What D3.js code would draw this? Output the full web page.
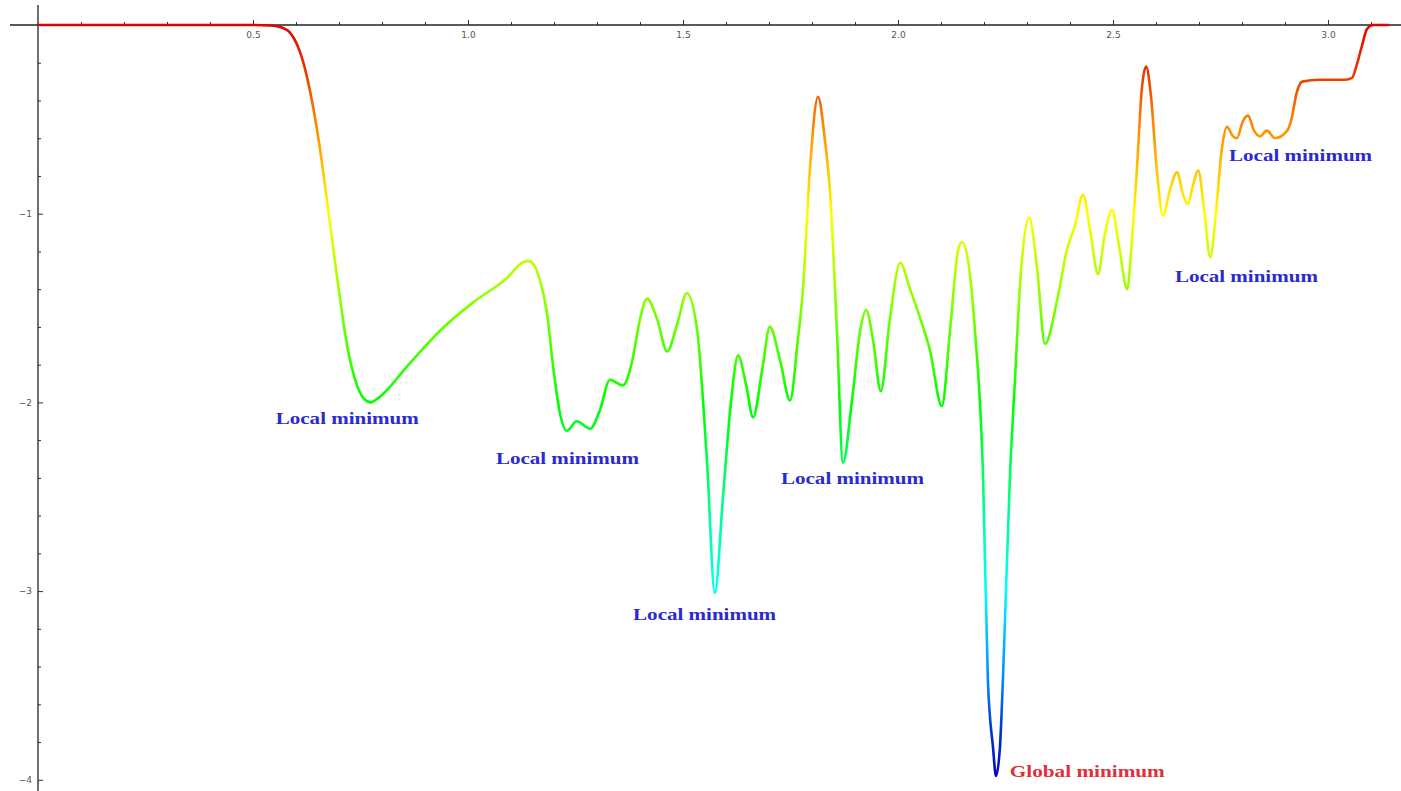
<!DOCTYPE html>
<html>
<head>
<meta charset="utf-8">
<script src="https://cdn.jsdelivr.net/npm/d3@7"></script>
<style>
  body { margin: 0; background: #fff; }
  svg { display: block; }
</style>
</head>
<body>
<div id="chart-area"></div>
<script>
// values
var xs = [0, 0.26, 0.493, 0.54, 0.563, 0.586, 0.616, 0.637, 0.656, 0.676, 0.697, 0.719, 0.742, 0.758, 0.774,
  0.795, 0.858, 0.935, 1.012, 1.091, 1.126, 1.14, 1.153, 1.167, 1.184, 1.198, 1.214, 1.23, 1.253, 1.284,
  1.307, 1.33, 1.36, 1.381, 1.4, 1.416, 1.44, 1.463, 1.486, 1.509, 1.533, 1.556, 1.574, 1.593, 1.612,
  1.628, 1.647, 1.663, 1.684, 1.702, 1.726, 1.749, 1.767, 1.779, 1.795, 1.814, 1.83, 1.842, 1.858, 1.872,
  1.893, 1.912, 1.926, 1.942, 1.96, 1.981, 2.005, 2.028, 2.051, 2.074, 2.102, 2.121, 2.14, 2.149, 2.163,
  2.179, 2.198, 2.209, 2.221, 2.228, 2.237, 2.244, 2.26, 2.272, 2.284, 2.305, 2.323, 2.342, 2.37, 2.393,
  2.412, 2.43, 2.447, 2.465, 2.481, 2.498, 2.514, 2.533, 2.544, 2.556, 2.567, 2.577, 2.588, 2.602, 2.616,
  2.633, 2.649, 2.663, 2.674, 2.686, 2.698, 2.712, 2.726, 2.74, 2.753, 2.765, 2.779, 2.788, 2.802, 2.814,
  2.828, 2.842, 2.858, 2.877, 2.905, 2.916, 2.926, 2.94, 2.981, 3.04, 3.056, 3.067, 3.079, 3.091, 3.105, 3.1416];
var ys = [0, 0, 0, -0.003, -0.01, -0.04, -0.19, -0.4, -0.66, -1.0, -1.36, -1.7, -1.91, -1.98, -2.0,
  -1.97, -1.81, -1.62, -1.47, -1.34, -1.26, -1.25, -1.27, -1.35, -1.53, -1.81, -2.06, -2.15, -2.1, -2.14,
  -2.04, -1.88, -1.91, -1.79, -1.56, -1.45, -1.56, -1.73, -1.59, -1.42, -1.62, -2.32, -3.01, -2.5, -1.99,
  -1.75, -1.91, -2.08, -1.83, -1.6, -1.78, -1.99, -1.67, -1.4, -0.77, -0.38, -0.61, -0.89, -1.62, -2.32,
  -1.99, -1.62, -1.51, -1.67, -1.94, -1.56, -1.26, -1.4, -1.55, -1.72, -2.02, -1.62, -1.19, -1.15, -1.25,
  -1.62, -2.41, -3.47, -3.83, -3.98, -3.83, -3.47, -2.41, -1.88, -1.37, -1.02, -1.28, -1.69, -1.46, -1.19,
  -1.06, -0.9, -1.09, -1.32, -1.11, -0.98, -1.17, -1.4, -1.14, -0.75, -0.34, -0.22, -0.37, -0.77, -1.01,
  -0.87, -0.78, -0.9, -0.95, -0.85, -0.77, -0.98, -1.23, -0.98, -0.66, -0.54, -0.59, -0.6, -0.51, -0.48,
  -0.56, -0.59, -0.56, -0.6, -0.56, -0.49, -0.37, -0.3, -0.29, -0.29, -0.28, -0.21, -0.11, -0.02, 0, 0];

var labelText = ["Local minimum", "Local minimum", "Local minimum", "Local minimum",
  "Global minimum", "Local minimum", "Local minimum"];
var labelX = [0.553, 1.065, 1.384, 1.728, 2.26, 2.644, 2.77];
var labelY = [-2.115, -2.326, -3.153, -2.432, -3.985, -1.362, -0.721];
var labelGlobal = [false, false, false, false, true, false, false];

var xMajor = [0.5, 1.0, 1.5, 2.0, 2.5, 3.0];
var yMajor = [-1, -2, -3, -4];

var width = 1401, height = 791;

var svg = d3.select("#chart-area").append("svg")
  .attr("width", width)
  .attr("height", height);

var x = d3.scaleLinear().domain([0, 1]).range([38, 468]);
var y = d3.scaleLinear().domain([0, -4]).range([25, 779.8]);

// colour runs with the value: red at 0 through yellow, green, cyan to blue at -4
var grad = svg.append("defs").append("linearGradient")
  .attr("id", "hue")
  .attr("gradientUnits", "userSpaceOnUse")
  .attr("x1", 0).attr("x2", 0)
  .attr("y1", y(0)).attr("y2", y(-4));
d3.range(0, 4.01, 0.25).forEach((v) => {
  var c = d3.hsl(60 * v, 1, v < 0.3 ? 0.45 : (v > 3.6 ? 0.4 : 0.5));
  grad.append("stop")
    .attr("offset", v / 4)
    .attr("stop-color", c.formatHex());
});

// axes
var minorX = d3.range(0.1, 3.15, 0.1).filter((d) => Math.abs(d * 2 - Math.round(d * 2)) > 0.01);
var minorY = d3.range(-0.2, -4.05, -0.2).filter((d) => Math.abs(d - Math.round(d)) > 0.01);

svg.append("g")
  .attr("transform", "translate(0," + y(0) + ")")
  .call(d3.axisBottom(x).tickValues(minorX).tickSize(-3).tickFormat(""))
  .call((g) => g.select(".domain").remove())
  .selectAll("line").attr("stroke", "#333");

var xAxis = svg.append("g")
  .attr("transform", "translate(0," + y(0) + ")")
  .call(d3.axisBottom(x).tickValues(xMajor).tickSizeInner(-5).tickSizeOuter(0)
    .tickPadding(7).tickFormat(d3.format(".1f")));
xAxis.select(".domain").remove();
xAxis.selectAll("line").attr("stroke", "#333");
xAxis.selectAll("text").attr("fill", "#555").attr("font-size", 9)
  .attr("font-family", "DejaVu Sans, sans-serif");

svg.append("line")
  .attr("x1", 10).attr("x2", width)
  .attr("y1", y(0)).attr("y2", y(0))
  .attr("stroke", "#222").attr("stroke-width", 1.3);

svg.append("g")
  .attr("transform", "translate(" + x(0) + ",0)")
  .call(d3.axisLeft(y).tickValues(minorY).tickSize(-3).tickFormat(""))
  .call((g) => g.select(".domain").remove())
  .selectAll("line").attr("stroke", "#333");

var yAxis = svg.append("g")
  .attr("transform", "translate(" + x(0) + ",0)")
  .call(d3.axisLeft(y).tickValues(yMajor).tickSizeInner(-5).tickSizeOuter(0)
    .tickPadding(6).tickFormat(d3.format("d")));
yAxis.select(".domain").remove();
yAxis.selectAll("line").attr("stroke", "#333");
yAxis.selectAll("text").attr("fill", "#555").attr("font-size", 9)
  .attr("font-family", "DejaVu Sans, sans-serif");

svg.append("line")
  .attr("x1", x(0)).attr("x2", x(0))
  .attr("y1", 5).attr("y2", height)
  .attr("stroke", "#222").attr("stroke-width", 1.3);

// the curve
var pts = xs.map((d, i) => [d, ys[i]]);
var line = d3.line()
  .x((d) => x(d[0]))
  .y((d) => y(d[1]))
  .curve(d3.curveMonotoneX);

svg.append("path")
  .datum(pts)
  .attr("d", line)
  .attr("fill", "none")
  .attr("stroke", "url(#hue)")
  .attr("stroke-width", 2.6)
  .attr("stroke-linejoin", "round");

// annotations
svg.selectAll(".lbl")
  .data(labelText)
  .enter()
  .append("text")
    .attr("class", "lbl")
    .attr("x", (d, i) => x(labelX[i]))
    .attr("y", (d, i) => y(labelY[i]))
    .attr("font-family", "Liberation Serif, Times New Roman, serif")
    .attr("font-weight", "bold")
    .attr("font-size", 17)
    .attr("textLength", (d, i) => labelGlobal[i] ? 155 : 143)
    .attr("lengthAdjust", "spacingAndGlyphs")
    .attr("fill", (d, i) => labelGlobal[i] ? "#e0303a" : "#2a2ad0")
    .text((d) => d);
</script>
</body>
</html>
